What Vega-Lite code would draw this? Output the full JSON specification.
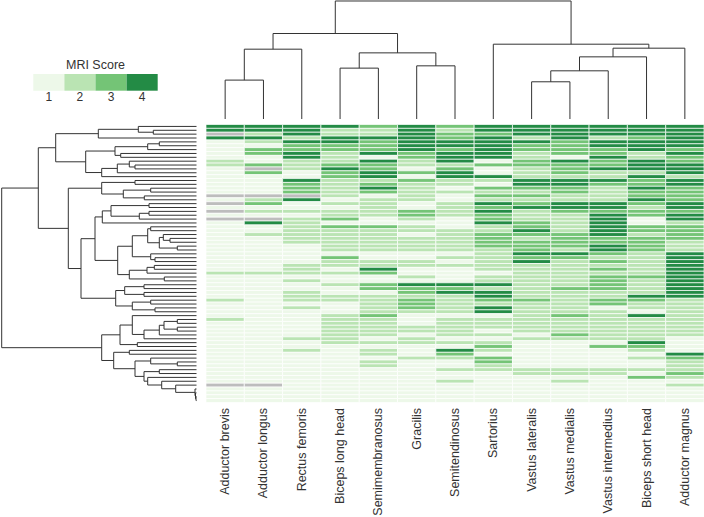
{"$schema":"https://vega.github.io/schema/vega-lite/v6.json","padding":0,"background":"white","config":{"view":{"stroke":null},"font":"Liberation Sans"},"spacing":3.5,
"datasets":{
"muscles":[{"c":0,"muscle":"Adductor brevis"},{"c":1,"muscle":"Adductor longus"},{"c":2,"muscle":"Rectus femoris"},{"c":3,"muscle":"Biceps long head"},{"c":4,"muscle":"Semimembranosus"},{"c":5,"muscle":"Gracilis"},{"c":6,"muscle":"Semitendinosus"},{"c":7,"muscle":"Sartorius"},{"c":8,"muscle":"Vastus lateralis"},{"c":9,"muscle":"Vastus medialis"},{"c":10,"muscle":"Vastus intermedius"},{"c":11,"muscle":"Biceps short head"},{"c":12,"muscle":"Adductor magnus"}],
"colTree":[{"h":39,"x1":0,"h1":0,"x2":1,"h2":0},{"h":70,"x1":0.5,"h1":39,"x2":2,"h2":0},{"h":51,"x1":3,"h1":0,"x2":4,"h2":0},{"h":53.3,"x1":5,"h1":0,"x2":6,"h2":0},{"h":66.3,"x1":3.5,"h1":51,"x2":5.5,"h2":53.3},{"h":85.7,"x1":1.25,"h1":70,"x2":4.5,"h2":66.3},{"h":37.3,"x1":8,"h1":0,"x2":9,"h2":0},{"h":48.3,"x1":8.5,"h1":37.3,"x2":10,"h2":0},{"h":62.3,"x1":9.25,"h1":48.3,"x2":11,"h2":0},{"h":71,"x1":10.125,"h1":62.3,"x2":12,"h2":0},{"h":75,"x1":7,"h1":0,"x2":11.06,"h2":71},{"h":118.3,"x1":2.875,"h1":85.7,"x2":9.03,"h2":75}],
"rowTree":[{"h":43.2,"y1":1,"h1":0,"y2":2,"h2":0},{"h":58.2,"y1":0,"h1":0,"y2":1.5,"h2":43.2},{"h":98.2,"y1":0.75,"h1":58.2,"y2":3,"h2":0},{"h":37.2,"y1":4,"h1":0,"y2":5,"h2":0},{"h":48.8,"y1":4.5,"h1":37.2,"y2":6,"h2":0},{"h":75.8,"y1":7,"h1":0,"y2":8,"h2":0},{"h":81.5,"y1":5.25,"h1":48.8,"y2":7.5,"h2":75.8},{"h":61.5,"y1":10,"h1":0,"y2":11,"h2":0},{"h":67.2,"y1":9,"h1":0,"y2":10.5,"h2":61.5},{"h":79.2,"y1":9.75,"h1":67.2,"y2":12,"h2":0},{"h":94.8,"y1":10.875,"h1":79.2,"y2":13,"h2":0},{"h":110.8,"y1":6.375,"h1":81.5,"y2":11.94,"h2":94.8},{"h":140.8,"y1":1.875,"h1":98.2,"y2":9.16,"h2":110.8},{"h":61.5,"y1":14,"h1":0,"y2":15,"h2":0},{"h":45.8,"y1":16,"h1":0,"y2":17,"h2":0},{"h":52.2,"y1":18,"h1":0,"y2":19,"h2":0},{"h":73.2,"y1":16.5,"h1":45.8,"y2":18.5,"h2":52.2},{"h":94.8,"y1":14.5,"h1":61.5,"y2":17.5,"h2":73.2},{"h":47.5,"y1":20,"h1":0,"y2":21,"h2":0},{"h":47.5,"y1":22,"h1":0,"y2":23,"h2":0},{"h":57.2,"y1":22.5,"h1":47.5,"y2":24,"h2":0},{"h":85.5,"y1":20.5,"h1":47.5,"y2":23.25,"h2":57.2},{"h":94.2,"y1":21.875,"h1":85.5,"y2":25,"h2":0},{"h":45.8,"y1":26,"h1":0,"y2":27,"h2":0},{"h":26.5,"y1":29,"h1":0,"y2":30,"h2":0},{"h":33.2,"y1":28,"h1":0,"y2":29.5,"h2":26.5},{"h":19.2,"y1":31,"h1":0,"y2":32,"h2":0},{"h":37.2,"y1":28.75,"h1":33.2,"y2":31.5,"h2":19.2},{"h":48.8,"y1":26.5,"h1":45.8,"y2":30.125,"h2":37.2},{"h":41.5,"y1":34,"h1":0,"y2":35,"h2":0},{"h":45.8,"y1":33,"h1":0,"y2":34.5,"h2":41.5},{"h":64.2,"y1":28.31,"h1":48.8,"y2":33.75,"h2":45.8},{"h":42.2,"y1":36,"h1":0,"y2":37,"h2":0},{"h":49.5,"y1":36.5,"h1":42.2,"y2":38,"h2":0},{"h":32.2,"y1":39,"h1":0,"y2":40,"h2":0},{"h":67.2,"y1":37.25,"h1":49.5,"y2":39.5,"h2":32.2},{"h":78.8,"y1":31.03,"h1":64.2,"y2":38.375,"h2":67.2},{"h":101.5,"y1":23.44,"h1":94.2,"y2":34.7,"h2":78.8},{"h":52.5,"y1":41,"h1":0,"y2":42,"h2":0},{"h":52.5,"y1":43,"h1":0,"y2":44,"h2":0},{"h":71.8,"y1":41.5,"h1":52.5,"y2":43.5,"h2":52.5},{"h":45.8,"y1":45,"h1":0,"y2":46,"h2":0},{"h":41.5,"y1":47,"h1":0,"y2":48,"h2":0},{"h":64.2,"y1":45.5,"h1":45.8,"y2":47.5,"h2":41.5},{"h":80.8,"y1":42.5,"h1":71.8,"y2":46.5,"h2":64.2},{"h":115.5,"y1":29.07,"h1":101.5,"y2":44.5,"h2":80.8},{"h":128.2,"y1":16,"h1":94.8,"y2":36.8,"h2":115.5},{"h":158.2,"y1":5.52,"h1":140.8,"y2":26.4,"h2":128.2},{"h":19.2,"y1":50,"h1":0,"y2":51,"h2":0},{"h":19.2,"y1":52,"h1":0,"y2":53,"h2":0},{"h":32.5,"y1":50.5,"h1":19.2,"y2":52.5,"h2":19.2},{"h":37.2,"y1":51.5,"h1":32.5,"y2":54,"h2":0},{"h":52.5,"y1":52.75,"h1":37.2,"y2":55,"h2":0},{"h":64.2,"y1":49,"h1":0,"y2":53.875,"h2":52.5},{"h":59.2,"y1":56,"h1":0,"y2":57,"h2":0},{"h":76.5,"y1":51.44,"h1":64.2,"y2":56.5,"h2":59.2},{"h":67.2,"y1":58,"h1":0,"y2":59,"h2":0},{"h":19.2,"y1":61,"h1":0,"y2":62,"h2":0},{"h":45.8,"y1":60,"h1":0,"y2":61.5,"h2":19.2},{"h":37.2,"y1":63,"h1":0,"y2":64,"h2":0},{"h":0.5,"y1":70,"h1":0,"y2":71,"h2":0},{"h":1,"y1":69,"h1":0,"y2":70.5,"h2":0.5},{"h":1.5,"y1":68,"h1":0,"y2":69.75,"h2":1},{"h":20.8,"y1":67,"h1":0,"y2":68.875,"h2":1.5},{"h":34.8,"y1":66,"h1":0,"y2":67.94,"h2":20.8},{"h":48.8,"y1":65,"h1":0,"y2":66.97,"h2":34.8},{"h":52.5,"y1":63.5,"h1":37.2,"y2":65.98,"h2":48.8},{"h":61.5,"y1":60.75,"h1":45.8,"y2":64.74,"h2":52.5},{"h":82.8,"y1":58.5,"h1":67.2,"y2":62.75,"h2":61.5},{"h":94.8,"y1":53.97,"h1":76.5,"y2":60.62,"h2":82.8},{"h":194.8,"y1":15.96,"h1":158.2,"y2":57.3,"h2":94.8}],
"cells":[
{"r":0,"c":0,"s":4},{"r":1,"c":0,"s":4},{"r":2,"c":0,"s":"NA"},{"r":3,"c":0,"s":4},{"r":4,"c":0,"s":1},{"r":5,"c":0,"s":1},{"r":6,"c":0,"s":1},{"r":7,"c":0,"s":1},{"r":8,"c":0,"s":1},{"r":9,"c":0,"s":2},{"r":10,"c":0,"s":2},{"r":11,"c":0,"s":1},{"r":12,"c":0,"s":1},{"r":13,"c":0,"s":1},{"r":14,"c":0,"s":1},{"r":15,"c":0,"s":1},{"r":16,"c":0,"s":1},{"r":17,"c":0,"s":1},{"r":18,"c":0,"s":"NA"},{"r":19,"c":0,"s":1},{"r":20,"c":0,"s":"NA"},{"r":21,"c":0,"s":1},{"r":22,"c":0,"s":"NA"},{"r":23,"c":0,"s":1},{"r":24,"c":0,"s":"NA"},{"r":25,"c":0,"s":1},{"r":26,"c":0,"s":1},{"r":27,"c":0,"s":1},{"r":28,"c":0,"s":1},{"r":29,"c":0,"s":1},{"r":30,"c":0,"s":1},{"r":31,"c":0,"s":1},{"r":32,"c":0,"s":1},{"r":33,"c":0,"s":1},{"r":34,"c":0,"s":1},{"r":35,"c":0,"s":1},{"r":36,"c":0,"s":1},{"r":37,"c":0,"s":1},{"r":38,"c":0,"s":2},{"r":39,"c":0,"s":1},{"r":40,"c":0,"s":1},{"r":41,"c":0,"s":1},{"r":42,"c":0,"s":1},{"r":43,"c":0,"s":1},{"r":44,"c":0,"s":1},{"r":45,"c":0,"s":2},{"r":46,"c":0,"s":1},{"r":47,"c":0,"s":1},{"r":48,"c":0,"s":1},{"r":49,"c":0,"s":1},{"r":50,"c":0,"s":2},{"r":51,"c":0,"s":1},{"r":52,"c":0,"s":1},{"r":53,"c":0,"s":1},{"r":54,"c":0,"s":1},{"r":55,"c":0,"s":1},{"r":56,"c":0,"s":1},{"r":57,"c":0,"s":1},{"r":58,"c":0,"s":1},{"r":59,"c":0,"s":1},{"r":60,"c":0,"s":1},{"r":61,"c":0,"s":1},{"r":62,"c":0,"s":1},{"r":63,"c":0,"s":1},{"r":64,"c":0,"s":1},{"r":65,"c":0,"s":1},{"r":66,"c":0,"s":1},{"r":67,"c":0,"s":"NA"},{"r":68,"c":0,"s":1},{"r":69,"c":0,"s":1},{"r":70,"c":0,"s":1},{"r":71,"c":0,"s":1},
{"r":0,"c":1,"s":4},{"r":1,"c":1,"s":4},{"r":2,"c":1,"s":2},{"r":3,"c":1,"s":4},{"r":4,"c":1,"s":2},{"r":5,"c":1,"s":1},{"r":6,"c":1,"s":3},{"r":7,"c":1,"s":3},{"r":8,"c":1,"s":1},{"r":9,"c":1,"s":1},{"r":10,"c":1,"s":3},{"r":11,"c":1,"s":"NA"},{"r":12,"c":1,"s":3},{"r":13,"c":1,"s":1},{"r":14,"c":1,"s":1},{"r":15,"c":1,"s":1},{"r":16,"c":1,"s":1},{"r":17,"c":1,"s":1},{"r":18,"c":1,"s":"NA"},{"r":19,"c":1,"s":2},{"r":20,"c":1,"s":3},{"r":21,"c":1,"s":1},{"r":22,"c":1,"s":2},{"r":23,"c":1,"s":1},{"r":24,"c":1,"s":"NA"},{"r":25,"c":1,"s":4},{"r":26,"c":1,"s":1},{"r":27,"c":1,"s":1},{"r":28,"c":1,"s":2},{"r":29,"c":1,"s":1},{"r":30,"c":1,"s":1},{"r":31,"c":1,"s":1},{"r":32,"c":1,"s":1},{"r":33,"c":1,"s":1},{"r":34,"c":1,"s":1},{"r":35,"c":1,"s":1},{"r":36,"c":1,"s":1},{"r":37,"c":1,"s":1},{"r":38,"c":1,"s":2},{"r":39,"c":1,"s":1},{"r":40,"c":1,"s":1},{"r":41,"c":1,"s":1},{"r":42,"c":1,"s":1},{"r":43,"c":1,"s":1},{"r":44,"c":1,"s":1},{"r":45,"c":1,"s":1},{"r":46,"c":1,"s":1},{"r":47,"c":1,"s":1},{"r":48,"c":1,"s":1},{"r":49,"c":1,"s":1},{"r":50,"c":1,"s":1},{"r":51,"c":1,"s":1},{"r":52,"c":1,"s":1},{"r":53,"c":1,"s":1},{"r":54,"c":1,"s":1},{"r":55,"c":1,"s":1},{"r":56,"c":1,"s":1},{"r":57,"c":1,"s":1},{"r":58,"c":1,"s":1},{"r":59,"c":1,"s":1},{"r":60,"c":1,"s":1},{"r":61,"c":1,"s":1},{"r":62,"c":1,"s":1},{"r":63,"c":1,"s":1},{"r":64,"c":1,"s":1},{"r":65,"c":1,"s":1},{"r":66,"c":1,"s":1},{"r":67,"c":1,"s":"NA"},{"r":68,"c":1,"s":1},{"r":69,"c":1,"s":1},{"r":70,"c":1,"s":1},{"r":71,"c":1,"s":1},
{"r":0,"c":2,"s":4},{"r":1,"c":2,"s":4},{"r":2,"c":2,"s":4},{"r":3,"c":2,"s":2},{"r":4,"c":2,"s":4},{"r":5,"c":2,"s":3},{"r":6,"c":2,"s":3},{"r":7,"c":2,"s":4},{"r":8,"c":2,"s":4},{"r":9,"c":2,"s":2},{"r":10,"c":2,"s":2},{"r":11,"c":2,"s":2},{"r":12,"c":2,"s":1},{"r":13,"c":2,"s":1},{"r":14,"c":2,"s":4},{"r":15,"c":2,"s":3},{"r":16,"c":2,"s":3},{"r":17,"c":2,"s":3},{"r":18,"c":2,"s":"NA"},{"r":19,"c":2,"s":4},{"r":20,"c":2,"s":1},{"r":21,"c":2,"s":1},{"r":22,"c":2,"s":2},{"r":23,"c":2,"s":1},{"r":24,"c":2,"s":2},{"r":25,"c":2,"s":2},{"r":26,"c":2,"s":2},{"r":27,"c":2,"s":2},{"r":28,"c":2,"s":2},{"r":29,"c":2,"s":2},{"r":30,"c":2,"s":2},{"r":31,"c":2,"s":1},{"r":32,"c":2,"s":1},{"r":33,"c":2,"s":1},{"r":34,"c":2,"s":1},{"r":35,"c":2,"s":1},{"r":36,"c":2,"s":2},{"r":37,"c":2,"s":2},{"r":38,"c":2,"s":2},{"r":39,"c":2,"s":1},{"r":40,"c":2,"s":2},{"r":41,"c":2,"s":1},{"r":42,"c":2,"s":1},{"r":43,"c":2,"s":2},{"r":44,"c":2,"s":2},{"r":45,"c":2,"s":2},{"r":46,"c":2,"s":1},{"r":47,"c":2,"s":2},{"r":48,"c":2,"s":1},{"r":49,"c":2,"s":1},{"r":50,"c":2,"s":1},{"r":51,"c":2,"s":1},{"r":52,"c":2,"s":1},{"r":53,"c":2,"s":1},{"r":54,"c":2,"s":1},{"r":55,"c":2,"s":2},{"r":56,"c":2,"s":1},{"r":57,"c":2,"s":1},{"r":58,"c":2,"s":2},{"r":59,"c":2,"s":1},{"r":60,"c":2,"s":1},{"r":61,"c":2,"s":1},{"r":62,"c":2,"s":1},{"r":63,"c":2,"s":1},{"r":64,"c":2,"s":1},{"r":65,"c":2,"s":1},{"r":66,"c":2,"s":1},{"r":67,"c":2,"s":1},{"r":68,"c":2,"s":1},{"r":69,"c":2,"s":1},{"r":70,"c":2,"s":1},{"r":71,"c":2,"s":1},
{"r":0,"c":3,"s":4},{"r":1,"c":3,"s":2},{"r":2,"c":3,"s":2},{"r":3,"c":3,"s":4},{"r":4,"c":3,"s":4},{"r":5,"c":3,"s":3},{"r":6,"c":3,"s":3},{"r":7,"c":3,"s":2},{"r":8,"c":3,"s":2},{"r":9,"c":3,"s":2},{"r":10,"c":3,"s":3},{"r":11,"c":3,"s":4},{"r":12,"c":3,"s":3},{"r":13,"c":3,"s":3},{"r":14,"c":3,"s":2},{"r":15,"c":3,"s":2},{"r":16,"c":3,"s":2},{"r":17,"c":3,"s":2},{"r":18,"c":3,"s":2},{"r":19,"c":3,"s":1},{"r":20,"c":3,"s":2},{"r":21,"c":3,"s":1},{"r":22,"c":3,"s":2},{"r":23,"c":3,"s":2},{"r":24,"c":3,"s":3},{"r":25,"c":3,"s":1},{"r":26,"c":3,"s":3},{"r":27,"c":3,"s":2},{"r":28,"c":3,"s":2},{"r":29,"c":3,"s":2},{"r":30,"c":3,"s":2},{"r":31,"c":3,"s":2},{"r":32,"c":3,"s":2},{"r":33,"c":3,"s":1},{"r":34,"c":3,"s":3},{"r":35,"c":3,"s":2},{"r":36,"c":3,"s":2},{"r":37,"c":3,"s":1},{"r":38,"c":3,"s":2},{"r":39,"c":3,"s":1},{"r":40,"c":3,"s":1},{"r":41,"c":3,"s":2},{"r":42,"c":3,"s":1},{"r":43,"c":3,"s":1},{"r":44,"c":3,"s":2},{"r":45,"c":3,"s":2},{"r":46,"c":3,"s":1},{"r":47,"c":3,"s":1},{"r":48,"c":3,"s":1},{"r":49,"c":3,"s":2},{"r":50,"c":3,"s":2},{"r":51,"c":3,"s":2},{"r":52,"c":3,"s":2},{"r":53,"c":3,"s":2},{"r":54,"c":3,"s":2},{"r":55,"c":3,"s":2},{"r":56,"c":3,"s":2},{"r":57,"c":3,"s":1},{"r":58,"c":3,"s":1},{"r":59,"c":3,"s":1},{"r":60,"c":3,"s":1},{"r":61,"c":3,"s":1},{"r":62,"c":3,"s":1},{"r":63,"c":3,"s":1},{"r":64,"c":3,"s":1},{"r":65,"c":3,"s":1},{"r":66,"c":3,"s":1},{"r":67,"c":3,"s":1},{"r":68,"c":3,"s":1},{"r":69,"c":3,"s":1},{"r":70,"c":3,"s":1},{"r":71,"c":3,"s":1},
{"r":0,"c":4,"s":3},{"r":1,"c":4,"s":2},{"r":2,"c":4,"s":2},{"r":3,"c":4,"s":4},{"r":4,"c":4,"s":3},{"r":5,"c":4,"s":3},{"r":6,"c":4,"s":3},{"r":7,"c":4,"s":4},{"r":8,"c":4,"s":1},{"r":9,"c":4,"s":4},{"r":10,"c":4,"s":3},{"r":11,"c":4,"s":3},{"r":12,"c":4,"s":4},{"r":13,"c":4,"s":4},{"r":14,"c":4,"s":2},{"r":15,"c":4,"s":3},{"r":16,"c":4,"s":4},{"r":17,"c":4,"s":3},{"r":18,"c":4,"s":1},{"r":19,"c":4,"s":2},{"r":20,"c":4,"s":2},{"r":21,"c":4,"s":2},{"r":22,"c":4,"s":2},{"r":23,"c":4,"s":2},{"r":24,"c":4,"s":1},{"r":25,"c":4,"s":1},{"r":26,"c":4,"s":3},{"r":27,"c":4,"s":2},{"r":28,"c":4,"s":2},{"r":29,"c":4,"s":2},{"r":30,"c":4,"s":2},{"r":31,"c":4,"s":2},{"r":32,"c":4,"s":2},{"r":33,"c":4,"s":1},{"r":34,"c":4,"s":1},{"r":35,"c":4,"s":2},{"r":36,"c":4,"s":2},{"r":37,"c":4,"s":4},{"r":38,"c":4,"s":3},{"r":39,"c":4,"s":1},{"r":40,"c":4,"s":1},{"r":41,"c":4,"s":3},{"r":42,"c":4,"s":3},{"r":43,"c":4,"s":1},{"r":44,"c":4,"s":2},{"r":45,"c":4,"s":2},{"r":46,"c":4,"s":2},{"r":47,"c":4,"s":2},{"r":48,"c":4,"s":2},{"r":49,"c":4,"s":3},{"r":50,"c":4,"s":2},{"r":51,"c":4,"s":2},{"r":52,"c":4,"s":2},{"r":53,"c":4,"s":2},{"r":54,"c":4,"s":2},{"r":55,"c":4,"s":1},{"r":56,"c":4,"s":2},{"r":57,"c":4,"s":1},{"r":58,"c":4,"s":2},{"r":59,"c":4,"s":2},{"r":60,"c":4,"s":1},{"r":61,"c":4,"s":2},{"r":62,"c":4,"s":2},{"r":63,"c":4,"s":1},{"r":64,"c":4,"s":1},{"r":65,"c":4,"s":1},{"r":66,"c":4,"s":1},{"r":67,"c":4,"s":1},{"r":68,"c":4,"s":1},{"r":69,"c":4,"s":1},{"r":70,"c":4,"s":1},{"r":71,"c":4,"s":1},
{"r":0,"c":5,"s":4},{"r":1,"c":5,"s":4},{"r":2,"c":5,"s":4},{"r":3,"c":5,"s":4},{"r":4,"c":5,"s":4},{"r":5,"c":5,"s":4},{"r":6,"c":5,"s":4},{"r":7,"c":5,"s":3},{"r":8,"c":5,"s":3},{"r":9,"c":5,"s":2},{"r":10,"c":5,"s":2},{"r":11,"c":5,"s":1},{"r":12,"c":5,"s":3},{"r":13,"c":5,"s":1},{"r":14,"c":5,"s":3},{"r":15,"c":5,"s":2},{"r":16,"c":5,"s":2},{"r":17,"c":5,"s":2},{"r":18,"c":5,"s":2},{"r":19,"c":5,"s":2},{"r":20,"c":5,"s":1},{"r":21,"c":5,"s":1},{"r":22,"c":5,"s":3},{"r":23,"c":5,"s":3},{"r":24,"c":5,"s":2},{"r":25,"c":5,"s":1},{"r":26,"c":5,"s":2},{"r":27,"c":5,"s":2},{"r":28,"c":5,"s":1},{"r":29,"c":5,"s":2},{"r":30,"c":5,"s":2},{"r":31,"c":5,"s":2},{"r":32,"c":5,"s":2},{"r":33,"c":5,"s":1},{"r":34,"c":5,"s":1},{"r":35,"c":5,"s":2},{"r":36,"c":5,"s":2},{"r":37,"c":5,"s":1},{"r":38,"c":5,"s":1},{"r":39,"c":5,"s":2},{"r":40,"c":5,"s":1},{"r":41,"c":5,"s":4},{"r":42,"c":5,"s":3},{"r":43,"c":5,"s":3},{"r":44,"c":5,"s":2},{"r":45,"c":5,"s":3},{"r":46,"c":5,"s":3},{"r":47,"c":5,"s":3},{"r":48,"c":5,"s":2},{"r":49,"c":5,"s":1},{"r":50,"c":5,"s":1},{"r":51,"c":5,"s":1},{"r":52,"c":5,"s":2},{"r":53,"c":5,"s":2},{"r":54,"c":5,"s":1},{"r":55,"c":5,"s":2},{"r":56,"c":5,"s":2},{"r":57,"c":5,"s":1},{"r":58,"c":5,"s":1},{"r":59,"c":5,"s":1},{"r":60,"c":5,"s":2},{"r":61,"c":5,"s":1},{"r":62,"c":5,"s":1},{"r":63,"c":5,"s":1},{"r":64,"c":5,"s":1},{"r":65,"c":5,"s":1},{"r":66,"c":5,"s":1},{"r":67,"c":5,"s":1},{"r":68,"c":5,"s":1},{"r":69,"c":5,"s":1},{"r":70,"c":5,"s":1},{"r":71,"c":5,"s":1},
{"r":0,"c":6,"s":3},{"r":1,"c":6,"s":2},{"r":2,"c":6,"s":3},{"r":3,"c":6,"s":3},{"r":4,"c":6,"s":4},{"r":5,"c":6,"s":4},{"r":6,"c":6,"s":3},{"r":7,"c":6,"s":4},{"r":8,"c":6,"s":4},{"r":9,"c":6,"s":4},{"r":10,"c":6,"s":2},{"r":11,"c":6,"s":3},{"r":12,"c":6,"s":4},{"r":13,"c":6,"s":4},{"r":14,"c":6,"s":2},{"r":15,"c":6,"s":2},{"r":16,"c":6,"s":1},{"r":17,"c":6,"s":2},{"r":18,"c":6,"s":1},{"r":19,"c":6,"s":1},{"r":20,"c":6,"s":2},{"r":21,"c":6,"s":2},{"r":22,"c":6,"s":2},{"r":23,"c":6,"s":2},{"r":24,"c":6,"s":1},{"r":25,"c":6,"s":1},{"r":26,"c":6,"s":1},{"r":27,"c":6,"s":2},{"r":28,"c":6,"s":2},{"r":29,"c":6,"s":2},{"r":30,"c":6,"s":2},{"r":31,"c":6,"s":2},{"r":32,"c":6,"s":2},{"r":33,"c":6,"s":1},{"r":34,"c":6,"s":2},{"r":35,"c":6,"s":1},{"r":36,"c":6,"s":2},{"r":37,"c":6,"s":1},{"r":38,"c":6,"s":1},{"r":39,"c":6,"s":1},{"r":40,"c":6,"s":1},{"r":41,"c":6,"s":4},{"r":42,"c":6,"s":3},{"r":43,"c":6,"s":4},{"r":44,"c":6,"s":2},{"r":45,"c":6,"s":2},{"r":46,"c":6,"s":2},{"r":47,"c":6,"s":2},{"r":48,"c":6,"s":2},{"r":49,"c":6,"s":1},{"r":50,"c":6,"s":2},{"r":51,"c":6,"s":2},{"r":52,"c":6,"s":2},{"r":53,"c":6,"s":2},{"r":54,"c":6,"s":2},{"r":55,"c":6,"s":1},{"r":56,"c":6,"s":2},{"r":57,"c":6,"s":1},{"r":58,"c":6,"s":4},{"r":59,"c":6,"s":3},{"r":60,"c":6,"s":2},{"r":61,"c":6,"s":1},{"r":62,"c":6,"s":1},{"r":63,"c":6,"s":2},{"r":64,"c":6,"s":1},{"r":65,"c":6,"s":1},{"r":66,"c":6,"s":2},{"r":67,"c":6,"s":1},{"r":68,"c":6,"s":1},{"r":69,"c":6,"s":1},{"r":70,"c":6,"s":1},{"r":71,"c":6,"s":1},
{"r":0,"c":7,"s":4},{"r":1,"c":7,"s":4},{"r":2,"c":7,"s":3},{"r":3,"c":7,"s":4},{"r":4,"c":7,"s":4},{"r":5,"c":7,"s":4},{"r":6,"c":7,"s":4},{"r":7,"c":7,"s":4},{"r":8,"c":7,"s":4},{"r":9,"c":7,"s":1},{"r":10,"c":7,"s":3},{"r":11,"c":7,"s":1},{"r":12,"c":7,"s":1},{"r":13,"c":7,"s":4},{"r":14,"c":7,"s":2},{"r":15,"c":7,"s":1},{"r":16,"c":7,"s":3},{"r":17,"c":7,"s":2},{"r":18,"c":7,"s":3},{"r":19,"c":7,"s":2},{"r":20,"c":7,"s":4},{"r":21,"c":7,"s":3},{"r":22,"c":7,"s":4},{"r":23,"c":7,"s":3},{"r":24,"c":7,"s":3},{"r":25,"c":7,"s":4},{"r":26,"c":7,"s":2},{"r":27,"c":7,"s":2},{"r":28,"c":7,"s":3},{"r":29,"c":7,"s":3},{"r":30,"c":7,"s":3},{"r":31,"c":7,"s":3},{"r":32,"c":7,"s":2},{"r":33,"c":7,"s":2},{"r":34,"c":7,"s":2},{"r":35,"c":7,"s":2},{"r":36,"c":7,"s":2},{"r":37,"c":7,"s":2},{"r":38,"c":7,"s":1},{"r":39,"c":7,"s":2},{"r":40,"c":7,"s":2},{"r":41,"c":7,"s":4},{"r":42,"c":7,"s":2},{"r":43,"c":7,"s":4},{"r":44,"c":7,"s":4},{"r":45,"c":7,"s":3},{"r":46,"c":7,"s":2},{"r":47,"c":7,"s":4},{"r":48,"c":7,"s":4},{"r":49,"c":7,"s":1},{"r":50,"c":7,"s":2},{"r":51,"c":7,"s":2},{"r":52,"c":7,"s":2},{"r":53,"c":7,"s":1},{"r":54,"c":7,"s":2},{"r":55,"c":7,"s":1},{"r":56,"c":7,"s":2},{"r":57,"c":7,"s":3},{"r":58,"c":7,"s":2},{"r":59,"c":7,"s":1},{"r":60,"c":7,"s":3},{"r":61,"c":7,"s":3},{"r":62,"c":7,"s":2},{"r":63,"c":7,"s":2},{"r":64,"c":7,"s":1},{"r":65,"c":7,"s":1},{"r":66,"c":7,"s":1},{"r":67,"c":7,"s":1},{"r":68,"c":7,"s":1},{"r":69,"c":7,"s":1},{"r":70,"c":7,"s":1},{"r":71,"c":7,"s":1},
{"r":0,"c":8,"s":4},{"r":1,"c":8,"s":4},{"r":2,"c":8,"s":4},{"r":3,"c":8,"s":2},{"r":4,"c":8,"s":4},{"r":5,"c":8,"s":3},{"r":6,"c":8,"s":3},{"r":7,"c":8,"s":2},{"r":8,"c":8,"s":2},{"r":9,"c":8,"s":3},{"r":10,"c":8,"s":3},{"r":11,"c":8,"s":2},{"r":12,"c":8,"s":2},{"r":13,"c":8,"s":2},{"r":14,"c":8,"s":4},{"r":15,"c":8,"s":4},{"r":16,"c":8,"s":3},{"r":17,"c":8,"s":2},{"r":18,"c":8,"s":3},{"r":19,"c":8,"s":2},{"r":20,"c":8,"s":3},{"r":21,"c":8,"s":4},{"r":22,"c":8,"s":2},{"r":23,"c":8,"s":2},{"r":24,"c":8,"s":2},{"r":25,"c":8,"s":3},{"r":26,"c":8,"s":3},{"r":27,"c":8,"s":4},{"r":28,"c":8,"s":3},{"r":29,"c":8,"s":2},{"r":30,"c":8,"s":3},{"r":31,"c":8,"s":3},{"r":32,"c":8,"s":3},{"r":33,"c":8,"s":4},{"r":34,"c":8,"s":3},{"r":35,"c":8,"s":4},{"r":36,"c":8,"s":2},{"r":37,"c":8,"s":2},{"r":38,"c":8,"s":2},{"r":39,"c":8,"s":2},{"r":40,"c":8,"s":2},{"r":41,"c":8,"s":2},{"r":42,"c":8,"s":2},{"r":43,"c":8,"s":2},{"r":44,"c":8,"s":2},{"r":45,"c":8,"s":3},{"r":46,"c":8,"s":2},{"r":47,"c":8,"s":2},{"r":48,"c":8,"s":2},{"r":49,"c":8,"s":2},{"r":50,"c":8,"s":2},{"r":51,"c":8,"s":2},{"r":52,"c":8,"s":2},{"r":53,"c":8,"s":2},{"r":54,"c":8,"s":1},{"r":55,"c":8,"s":2},{"r":56,"c":8,"s":1},{"r":57,"c":8,"s":1},{"r":58,"c":8,"s":1},{"r":59,"c":8,"s":1},{"r":60,"c":8,"s":1},{"r":61,"c":8,"s":1},{"r":62,"c":8,"s":1},{"r":63,"c":8,"s":2},{"r":64,"c":8,"s":2},{"r":65,"c":8,"s":1},{"r":66,"c":8,"s":1},{"r":67,"c":8,"s":1},{"r":68,"c":8,"s":1},{"r":69,"c":8,"s":1},{"r":70,"c":8,"s":1},{"r":71,"c":8,"s":1},
{"r":0,"c":9,"s":4},{"r":1,"c":9,"s":4},{"r":2,"c":9,"s":4},{"r":3,"c":9,"s":4},{"r":4,"c":9,"s":3},{"r":5,"c":9,"s":3},{"r":6,"c":9,"s":3},{"r":7,"c":9,"s":3},{"r":8,"c":9,"s":1},{"r":9,"c":9,"s":4},{"r":10,"c":9,"s":3},{"r":11,"c":9,"s":3},{"r":12,"c":9,"s":3},{"r":13,"c":9,"s":2},{"r":14,"c":9,"s":4},{"r":15,"c":9,"s":4},{"r":16,"c":9,"s":3},{"r":17,"c":9,"s":3},{"r":18,"c":9,"s":2},{"r":19,"c":9,"s":2},{"r":20,"c":9,"s":4},{"r":21,"c":9,"s":4},{"r":22,"c":9,"s":3},{"r":23,"c":9,"s":2},{"r":24,"c":9,"s":2},{"r":25,"c":9,"s":2},{"r":26,"c":9,"s":2},{"r":27,"c":9,"s":2},{"r":28,"c":9,"s":3},{"r":29,"c":9,"s":3},{"r":30,"c":9,"s":3},{"r":31,"c":9,"s":3},{"r":32,"c":9,"s":2},{"r":33,"c":9,"s":4},{"r":34,"c":9,"s":3},{"r":35,"c":9,"s":2},{"r":36,"c":9,"s":2},{"r":37,"c":9,"s":2},{"r":38,"c":9,"s":2},{"r":39,"c":9,"s":2},{"r":40,"c":9,"s":2},{"r":41,"c":9,"s":2},{"r":42,"c":9,"s":3},{"r":43,"c":9,"s":2},{"r":44,"c":9,"s":2},{"r":45,"c":9,"s":2},{"r":46,"c":9,"s":2},{"r":47,"c":9,"s":2},{"r":48,"c":9,"s":2},{"r":49,"c":9,"s":3},{"r":50,"c":9,"s":2},{"r":51,"c":9,"s":2},{"r":52,"c":9,"s":2},{"r":53,"c":9,"s":2},{"r":54,"c":9,"s":3},{"r":55,"c":9,"s":2},{"r":56,"c":9,"s":1},{"r":57,"c":9,"s":1},{"r":58,"c":9,"s":1},{"r":59,"c":9,"s":1},{"r":60,"c":9,"s":1},{"r":61,"c":9,"s":1},{"r":62,"c":9,"s":1},{"r":63,"c":9,"s":2},{"r":64,"c":9,"s":2},{"r":65,"c":9,"s":1},{"r":66,"c":9,"s":2},{"r":67,"c":9,"s":1},{"r":68,"c":9,"s":1},{"r":69,"c":9,"s":1},{"r":70,"c":9,"s":1},{"r":71,"c":9,"s":1},
{"r":0,"c":10,"s":4},{"r":1,"c":10,"s":4},{"r":2,"c":10,"s":4},{"r":3,"c":10,"s":2},{"r":4,"c":10,"s":4},{"r":5,"c":10,"s":4},{"r":6,"c":10,"s":3},{"r":7,"c":10,"s":3},{"r":8,"c":10,"s":4},{"r":9,"c":10,"s":3},{"r":10,"c":10,"s":3},{"r":11,"c":10,"s":4},{"r":12,"c":10,"s":2},{"r":13,"c":10,"s":2},{"r":14,"c":10,"s":4},{"r":15,"c":10,"s":3},{"r":16,"c":10,"s":2},{"r":17,"c":10,"s":2},{"r":18,"c":10,"s":2},{"r":19,"c":10,"s":2},{"r":20,"c":10,"s":4},{"r":21,"c":10,"s":4},{"r":22,"c":10,"s":3},{"r":23,"c":10,"s":4},{"r":24,"c":10,"s":4},{"r":25,"c":10,"s":4},{"r":26,"c":10,"s":4},{"r":27,"c":10,"s":4},{"r":28,"c":10,"s":4},{"r":29,"c":10,"s":3},{"r":30,"c":10,"s":3},{"r":31,"c":10,"s":4},{"r":32,"c":10,"s":4},{"r":33,"c":10,"s":3},{"r":34,"c":10,"s":2},{"r":35,"c":10,"s":3},{"r":36,"c":10,"s":2},{"r":37,"c":10,"s":3},{"r":38,"c":10,"s":2},{"r":39,"c":10,"s":3},{"r":40,"c":10,"s":3},{"r":41,"c":10,"s":3},{"r":42,"c":10,"s":3},{"r":43,"c":10,"s":2},{"r":44,"c":10,"s":2},{"r":45,"c":10,"s":3},{"r":46,"c":10,"s":3},{"r":47,"c":10,"s":1},{"r":48,"c":10,"s":2},{"r":49,"c":10,"s":2},{"r":50,"c":10,"s":2},{"r":51,"c":10,"s":2},{"r":52,"c":10,"s":2},{"r":53,"c":10,"s":2},{"r":54,"c":10,"s":2},{"r":55,"c":10,"s":2},{"r":56,"c":10,"s":1},{"r":57,"c":10,"s":3},{"r":58,"c":10,"s":1},{"r":59,"c":10,"s":1},{"r":60,"c":10,"s":1},{"r":61,"c":10,"s":1},{"r":62,"c":10,"s":1},{"r":63,"c":10,"s":2},{"r":64,"c":10,"s":2},{"r":65,"c":10,"s":1},{"r":66,"c":10,"s":1},{"r":67,"c":10,"s":1},{"r":68,"c":10,"s":1},{"r":69,"c":10,"s":1},{"r":70,"c":10,"s":1},{"r":71,"c":10,"s":1},
{"r":0,"c":11,"s":4},{"r":1,"c":11,"s":4},{"r":2,"c":11,"s":4},{"r":3,"c":11,"s":3},{"r":4,"c":11,"s":4},{"r":5,"c":11,"s":4},{"r":6,"c":11,"s":4},{"r":7,"c":11,"s":2},{"r":8,"c":11,"s":2},{"r":9,"c":11,"s":4},{"r":10,"c":11,"s":4},{"r":11,"c":11,"s":4},{"r":12,"c":11,"s":2},{"r":13,"c":11,"s":4},{"r":14,"c":11,"s":3},{"r":15,"c":11,"s":3},{"r":16,"c":11,"s":4},{"r":17,"c":11,"s":3},{"r":18,"c":11,"s":3},{"r":19,"c":11,"s":4},{"r":20,"c":11,"s":3},{"r":21,"c":11,"s":2},{"r":22,"c":11,"s":3},{"r":23,"c":11,"s":3},{"r":24,"c":11,"s":1},{"r":25,"c":11,"s":1},{"r":26,"c":11,"s":3},{"r":27,"c":11,"s":3},{"r":28,"c":11,"s":2},{"r":29,"c":11,"s":3},{"r":30,"c":11,"s":3},{"r":31,"c":11,"s":3},{"r":32,"c":11,"s":3},{"r":33,"c":11,"s":2},{"r":34,"c":11,"s":2},{"r":35,"c":11,"s":2},{"r":36,"c":11,"s":2},{"r":37,"c":11,"s":2},{"r":38,"c":11,"s":2},{"r":39,"c":11,"s":3},{"r":40,"c":11,"s":2},{"r":41,"c":11,"s":2},{"r":42,"c":11,"s":2},{"r":43,"c":11,"s":2},{"r":44,"c":11,"s":4},{"r":45,"c":11,"s":3},{"r":46,"c":11,"s":2},{"r":47,"c":11,"s":2},{"r":48,"c":11,"s":1},{"r":49,"c":11,"s":4},{"r":50,"c":11,"s":2},{"r":51,"c":11,"s":2},{"r":52,"c":11,"s":2},{"r":53,"c":11,"s":2},{"r":54,"c":11,"s":2},{"r":55,"c":11,"s":2},{"r":56,"c":11,"s":4},{"r":57,"c":11,"s":3},{"r":58,"c":11,"s":2},{"r":59,"c":11,"s":1},{"r":60,"c":11,"s":2},{"r":61,"c":11,"s":1},{"r":62,"c":11,"s":1},{"r":63,"c":11,"s":2},{"r":64,"c":11,"s":1},{"r":65,"c":11,"s":3},{"r":66,"c":11,"s":1},{"r":67,"c":11,"s":1},{"r":68,"c":11,"s":1},{"r":69,"c":11,"s":1},{"r":70,"c":11,"s":1},{"r":71,"c":11,"s":1},
{"r":0,"c":12,"s":4},{"r":1,"c":12,"s":4},{"r":2,"c":12,"s":4},{"r":3,"c":12,"s":4},{"r":4,"c":12,"s":4},{"r":5,"c":12,"s":4},{"r":6,"c":12,"s":3},{"r":7,"c":12,"s":4},{"r":8,"c":12,"s":3},{"r":9,"c":12,"s":3},{"r":10,"c":12,"s":4},{"r":11,"c":12,"s":4},{"r":12,"c":12,"s":4},{"r":13,"c":12,"s":2},{"r":14,"c":12,"s":4},{"r":15,"c":12,"s":4},{"r":16,"c":12,"s":3},{"r":17,"c":12,"s":3},{"r":18,"c":12,"s":3},{"r":19,"c":12,"s":3},{"r":20,"c":12,"s":4},{"r":21,"c":12,"s":4},{"r":22,"c":12,"s":3},{"r":23,"c":12,"s":4},{"r":24,"c":12,"s":4},{"r":25,"c":12,"s":2},{"r":26,"c":12,"s":3},{"r":27,"c":12,"s":3},{"r":28,"c":12,"s":3},{"r":29,"c":12,"s":3},{"r":30,"c":12,"s":2},{"r":31,"c":12,"s":2},{"r":32,"c":12,"s":2},{"r":33,"c":12,"s":4},{"r":34,"c":12,"s":4},{"r":35,"c":12,"s":4},{"r":36,"c":12,"s":4},{"r":37,"c":12,"s":4},{"r":38,"c":12,"s":4},{"r":39,"c":12,"s":4},{"r":40,"c":12,"s":4},{"r":41,"c":12,"s":4},{"r":42,"c":12,"s":4},{"r":43,"c":12,"s":4},{"r":44,"c":12,"s":4},{"r":45,"c":12,"s":2},{"r":46,"c":12,"s":2},{"r":47,"c":12,"s":2},{"r":48,"c":12,"s":2},{"r":49,"c":12,"s":2},{"r":50,"c":12,"s":2},{"r":51,"c":12,"s":2},{"r":52,"c":12,"s":2},{"r":53,"c":12,"s":2},{"r":54,"c":12,"s":2},{"r":55,"c":12,"s":1},{"r":56,"c":12,"s":1},{"r":57,"c":12,"s":1},{"r":58,"c":12,"s":1},{"r":59,"c":12,"s":4},{"r":60,"c":12,"s":3},{"r":61,"c":12,"s":2},{"r":62,"c":12,"s":2},{"r":63,"c":12,"s":2},{"r":64,"c":12,"s":3},{"r":65,"c":12,"s":2},{"r":66,"c":12,"s":1},{"r":67,"c":12,"s":2},{"r":68,"c":12,"s":1},{"r":69,"c":12,"s":1},{"r":70,"c":12,"s":1},{"r":71,"c":12,"s":1}
]},
"vconcat":[
{"hconcat":[
{"width":197,"height":119,"data":{"values":[{"s":1},{"s":2},{"s":3},{"s":4}]},
"layer":[
{"mark":{"type":"rect"},"encoding":{"x":{"field":"s","type":"ordinal","axis":null,"scale":{"type":"band","domain":[0,1,2,3,4,5],"paddingInner":0,"paddingOuter":0.167,"align":0.21}},"y":{"datum":0,"type":"quantitative","axis":null,"scale":{"domain":[-4.431,2.695],"reverse":true,"nice":false,"zero":false}},"y2":{"datum":1},"color":{"field":"s","type":"nominal","legend":null,"scale":{"domain":[1,2,3,4,"NA"],"range":["#edf8e9","#bae4b3","#74c476","#238b45","#bdbdbd"]}}}},
{"mark":{"type":"text","dy":15,"fontSize":12,"color":"#333333"},"encoding":{"x":{"field":"s","type":"ordinal","scale":{"type":"band","domain":[0,1,2,3,4,5],"paddingInner":0,"paddingOuter":0.167,"align":0.21}},"y":{"datum":0.5,"type":"quantitative","scale":{"domain":[-4.431,2.695],"reverse":true,"nice":false,"zero":false}},"text":{"field":"s"}}},
{"transform":[{"filter":"datum.s==2"}],"mark":{"type":"text","dy":-17,"fontSize":12.5,"color":"#333333"},"encoding":{"x":{"field":"s","type":"ordinal","bandPosition":1,"scale":{"type":"band","domain":[0,1,2,3,4,5],"paddingInner":0,"paddingOuter":0.167,"align":0.21}},"y":{"datum":0.5,"type":"quantitative","scale":{"domain":[-4.431,2.695],"reverse":true,"nice":false,"zero":false}},"text":{"value":"MRI Score"}}}
]},
{"width":498,"height":119,"data":{"name":"colTree"},
"encoding":{"y":{"field":"h","type":"quantitative","axis":null,"scale":{"domain":[0,119.3],"nice":false,"zero":false}}},
"layer":[
{"mark":{"type":"rule","color":"#333333","strokeWidth":1},"encoding":{"x":{"field":"x1","type":"quantitative","axis":null,"scale":{"domain":[-0.5,12.5],"nice":false,"zero":false}},"x2":{"field":"x2"}}},
{"mark":{"type":"rule","color":"#333333","strokeWidth":1},"encoding":{"x":{"field":"x1","type":"quantitative","axis":null,"scale":{"domain":[-0.5,12.5],"nice":false,"zero":false}},"y2":{"field":"h1"}}},
{"mark":{"type":"rule","color":"#333333","strokeWidth":1},"encoding":{"x":{"field":"x2","type":"quantitative","axis":null,"scale":{"domain":[-0.5,12.5],"nice":false,"zero":false}},"y2":{"field":"h2"}}}
]}
],"spacing":9,"bounds":"flush"},
{"hconcat":[
{"width":197,"height":278,"data":{"name":"rowTree"},
"encoding":{"x":{"field":"h","type":"quantitative","axis":null,"scale":{"domain":[196.5,-0.5],"nice":false,"zero":false}}},
"layer":[
{"mark":{"type":"rule","color":"#333333","strokeWidth":1},"encoding":{"y":{"field":"y1","type":"quantitative","axis":null,"scale":{"domain":[-0.5,71.5],"reverse":true,"nice":false,"zero":false}},"y2":{"field":"y2"}}},
{"mark":{"type":"rule","color":"#333333","strokeWidth":1},"encoding":{"y":{"field":"y1","type":"quantitative","axis":null,"scale":{"domain":[-0.5,71.5],"reverse":true,"nice":false,"zero":false}},"x2":{"field":"h1"}}},
{"mark":{"type":"rule","color":"#333333","strokeWidth":1},"encoding":{"y":{"field":"y2","type":"quantitative","axis":null,"scale":{"domain":[-0.5,71.5],"reverse":true,"nice":false,"zero":false}},"x2":{"field":"h2"}}}
]},
{"width":498,"height":278,"data":{"name":"cells"},
"transform":[{"lookup":"c","from":{"data":{"name":"muscles"},"key":"c","fields":["muscle"]}}],
"mark":{"type":"rect","stroke":"white","strokeWidth":0.7},
"encoding":{
"x":{"field":"muscle","type":"nominal","title":null,"sort":["Adductor brevis","Adductor longus","Rectus femoris","Biceps long head","Semimembranosus","Gracilis","Semitendinosus","Sartorius","Vastus lateralis","Vastus medialis","Vastus intermedius","Biceps short head","Adductor magnus"],"scale":{"paddingInner":0,"paddingOuter":0},"axis":{"orient":"bottom","labelAngle":270,"labelAlign":"right","labelBaseline":"middle","labelFontSize":12.5,"labelColor":"#333333","labelPadding":5,"tickSize":0,"ticks":false,"domain":false,"labelLimit":200,"grid":false}},
"y":{"field":"r","type":"ordinal","axis":null,"scale":{"paddingInner":0,"paddingOuter":0}},
"color":{"field":"s","type":"nominal","legend":null,"scale":{"domain":[1,2,3,4,"NA"],"range":["#edf8e9","#bae4b3","#74c476","#238b45","#bdbdbd"]}}
}}
],"spacing":9,"bounds":"flush"}
]}
